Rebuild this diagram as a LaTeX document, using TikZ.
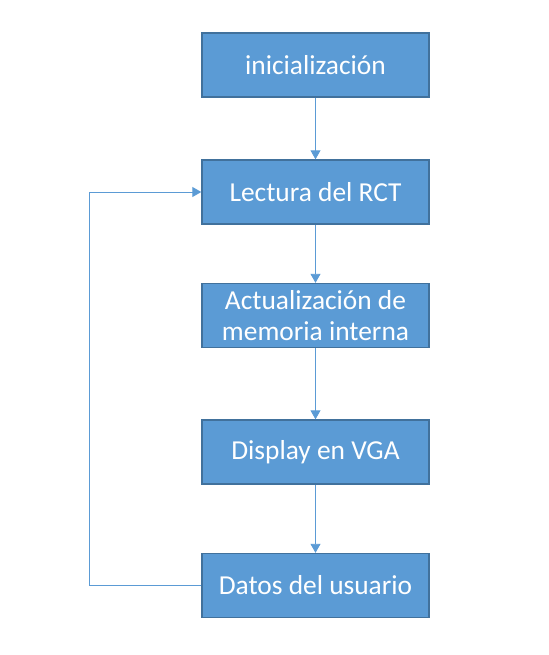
\documentclass[tikz,border=0pt]{standalone}
\usepackage{fontspec}
\setmainfont{Carlito}
\usetikzlibrary{arrows.meta,positioning}
\definecolor{boxfill}{HTML}{5B9BD5}
\definecolor{boxline}{HTML}{41719C}
\begin{document}
\begin{tikzpicture}[x=1bp,y=-1bp,
  every node/.style = {shape=rectangle, align=center},
  block/.style = {draw=boxline, fill=boxfill, line width=1.4bp,
     minimum width=227bp, minimum height=64bp, text=white,
     font=\fontsize{27.5}{31}\selectfont, inner sep=0pt},
  flow/.style = {draw=boxfill, line width=0.9bp,
     -{Triangle[length=9bp,width=10bp]}}]
\useasboundingbox (0,0) rectangle (549,655);
\node [block] (ini) at (315.5,65) {inicialización};
\node [block] (lect) at (315.5,192) {Lectura del RCT};
\node [block] (act) at (315.5,315.5) {Actualización de\\memoria interna};
\node [block] (disp) at (315.5,452) {Display en VGA};
\node [block] (datos) at (315.5,585.5) {Datos del usuario};
\coordinate (vuelta) at (89,585.5);
\draw [flow] (ini) -- (lect);
\draw [flow] (lect) -- (act);
\draw [flow] (act) -- (disp);
\draw [flow] (disp) -- (datos);
\draw [flow] (datos.west) -- (vuelta) |- (lect.west);
\end{tikzpicture}
\end{document}
